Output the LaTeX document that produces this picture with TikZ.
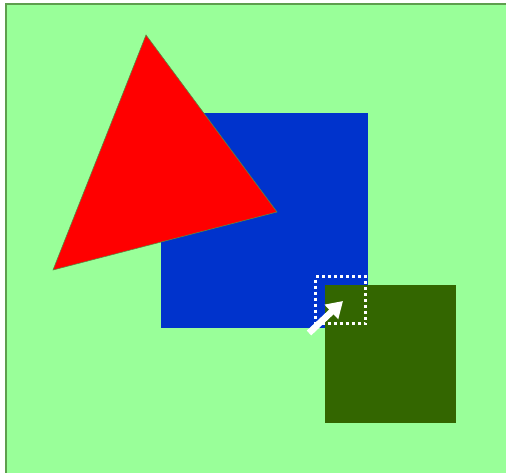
\documentclass[tikz,border=0pt]{standalone}
\usetikzlibrary{arrows.meta}
\definecolor{bgfill}{HTML}{99FF99}
\definecolor{bgline}{HTML}{5E9E4E}
\definecolor{bluesq}{HTML}{0033CC}
\definecolor{darkgreen}{HTML}{336600}
\definecolor{triline}{HTML}{5A8A40}
\tikzset{
  dotbox/.style={draw=white, line width=3pt, dash pattern=on 3pt off 3pt},
  pointer/.style={draw=white, line width=6.5pt, -{Triangle[length=16pt,width=19pt]}}
}
\begin{document}
\begin{tikzpicture}[x=1pt,y=-1pt]
\useasboundingbox (0,0) rectangle (506,473);
\fill[bgfill] (5.5,4.5) rectangle (510,480);
\draw[bgline, line width=2pt] (510,4.5) -- (5.5,4.5) -- (5.5,480);
\fill[bluesq] (161,113) rectangle (368,328);
\fill[darkgreen] (325,285) rectangle (456,423);
\filldraw[fill=red, draw=triline, line width=0.6pt] (146,35) -- (277,212) -- (53,270) -- cycle;
\node[dotbox, minimum width=50pt, minimum height=47pt, inner sep=0pt] (sel) at (340.5,300) {};
\coordinate (tail) at (309,333);
\coordinate (tip) at (343,301);
\draw[pointer] (tail) -- (tip);
\end{tikzpicture}
\end{document}
